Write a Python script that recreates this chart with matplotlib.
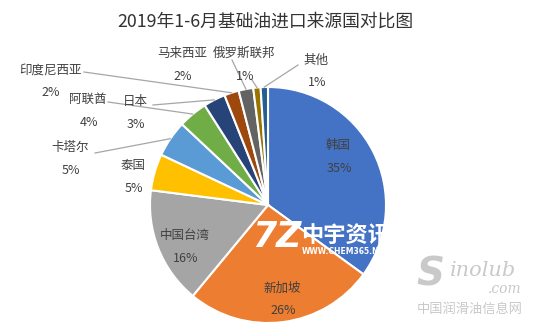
import numpy as np
import matplotlib.pyplot as plt

plt.rcParams['font.family'] = ['Noto Sans CJK SC', 'DejaVu Sans']

# 2019年1-6月基础油进口来源国占比 (%)
countries = ['韩国', '新加坡', '中国台湾', '泰国', '卡塔尔', '阿联酋',
             '日本', '印度尼西亚', '马来西亚', '俄罗斯联邦', '其他']
shares = [35, 26, 16, 5, 5, 4, 3, 2, 2, 1, 1]
colors = ['#4472C4', '#ED7D31', '#A5A5A5', '#FFC000', '#5B9BD5', '#70AD47',
          '#264478', '#9E480E', '#636363', '#997300', '#255E91']

W, H = 554, 332
fig = plt.figure(figsize=(W / 100, H / 100), dpi=100)
ax = fig.add_axes([0, 0, 1, 1])
ax.set_xlim(0, W)
ax.set_ylim(0, H)
ax.set_aspect('equal')
ax.axis('off')

def py(y):
    # pixel rows counted from the top
    return H - y

cx, cy, r = 268, py(205), 118
wedges, _ = ax.pie(shares, colors=colors, startangle=90, counterclock=False,
                   center=(cx, cy), radius=r,
                   wedgeprops=dict(edgecolor='white', linewidth=1.5))
ax.set_xlim(0, W)
ax.set_ylim(0, H)

txt = '#404040'
fs = 9

# label name / percent positions (pixels) and leader line start (None = inside)
label_pos = {
    '韩国': (338, 145, None),
    '新加坡': (282, 288, None),
    '中国台湾': (185, 235, None),
    '泰国': (133, 166, None),
    '卡塔尔': (70, 148, (95, 153)),
    '阿联酋': (88, 99, (108, 102)),
    '日本': (135, 101, (153, 105)),
    '印度尼西亚': (50, 70, (84, 72)),
    '马来西亚': (182, 53, (232, 60)),
    '俄罗斯联邦': (244, 53, (252, 80)),
    '其他': (316, 60, (298, 65)),
}

for w, name, val in zip(wedges, countries, shares):
    lx, ly, lead = label_pos[name]
    ax.text(lx, py(ly), name, ha='center', va='center', fontsize=fs, color=txt)
    ax.text(lx + 1, py(ly + 23), f'{val}%', ha='center', va='center', fontsize=fs, color=txt)
    if lead is not None:
        mid = np.deg2rad((w.theta1 + w.theta2) / 2)
        ex, ey = cx + r * np.cos(mid), cy + r * np.sin(mid)
        ax.plot([lead[0], ex], [py(lead[1]), ey], color='#A6A6A6', lw=0.9, zorder=1)

ax.text(265, py(22), '2019年1-6月基础油进口来源国对比图', ha='center', va='center',
        fontsize=12.8, color='#333333')

# 水印
ax.text(277, py(237), '7Z', ha='center', va='center', fontsize=25, fontweight='bold',
        style='italic', color='white', family='DejaVu Sans')
ax.text(346, py(236), '中宇资讯', ha='center', va='center', fontsize=16,
        fontweight='bold', color='white')
ax.text(346, py(251), 'WWW.CHEM365.NET', ha='center', va='center', fontsize=5.5,
        fontweight='bold', color='white', family='DejaVu Sans')

wm = '#c9c9c9'
ax.text(430, py(275), 'S', ha='center', va='center', fontsize=28, fontweight='bold',
        style='italic', color=wm, family='DejaVu Sans')
ax.text(483, py(271), 'inolub', ha='center', va='center', fontsize=15,
        style='italic', color=wm, family='DejaVu Serif')
ax.text(505, py(289), '.com', ha='center', va='center', fontsize=10,
        style='italic', color=wm, family='DejaVu Serif')
ax.text(470, py(309), '中国润滑油信息网', ha='center', va='center', fontsize=9.5, color=wm)

fig.savefig('out.png', dpi=100)
